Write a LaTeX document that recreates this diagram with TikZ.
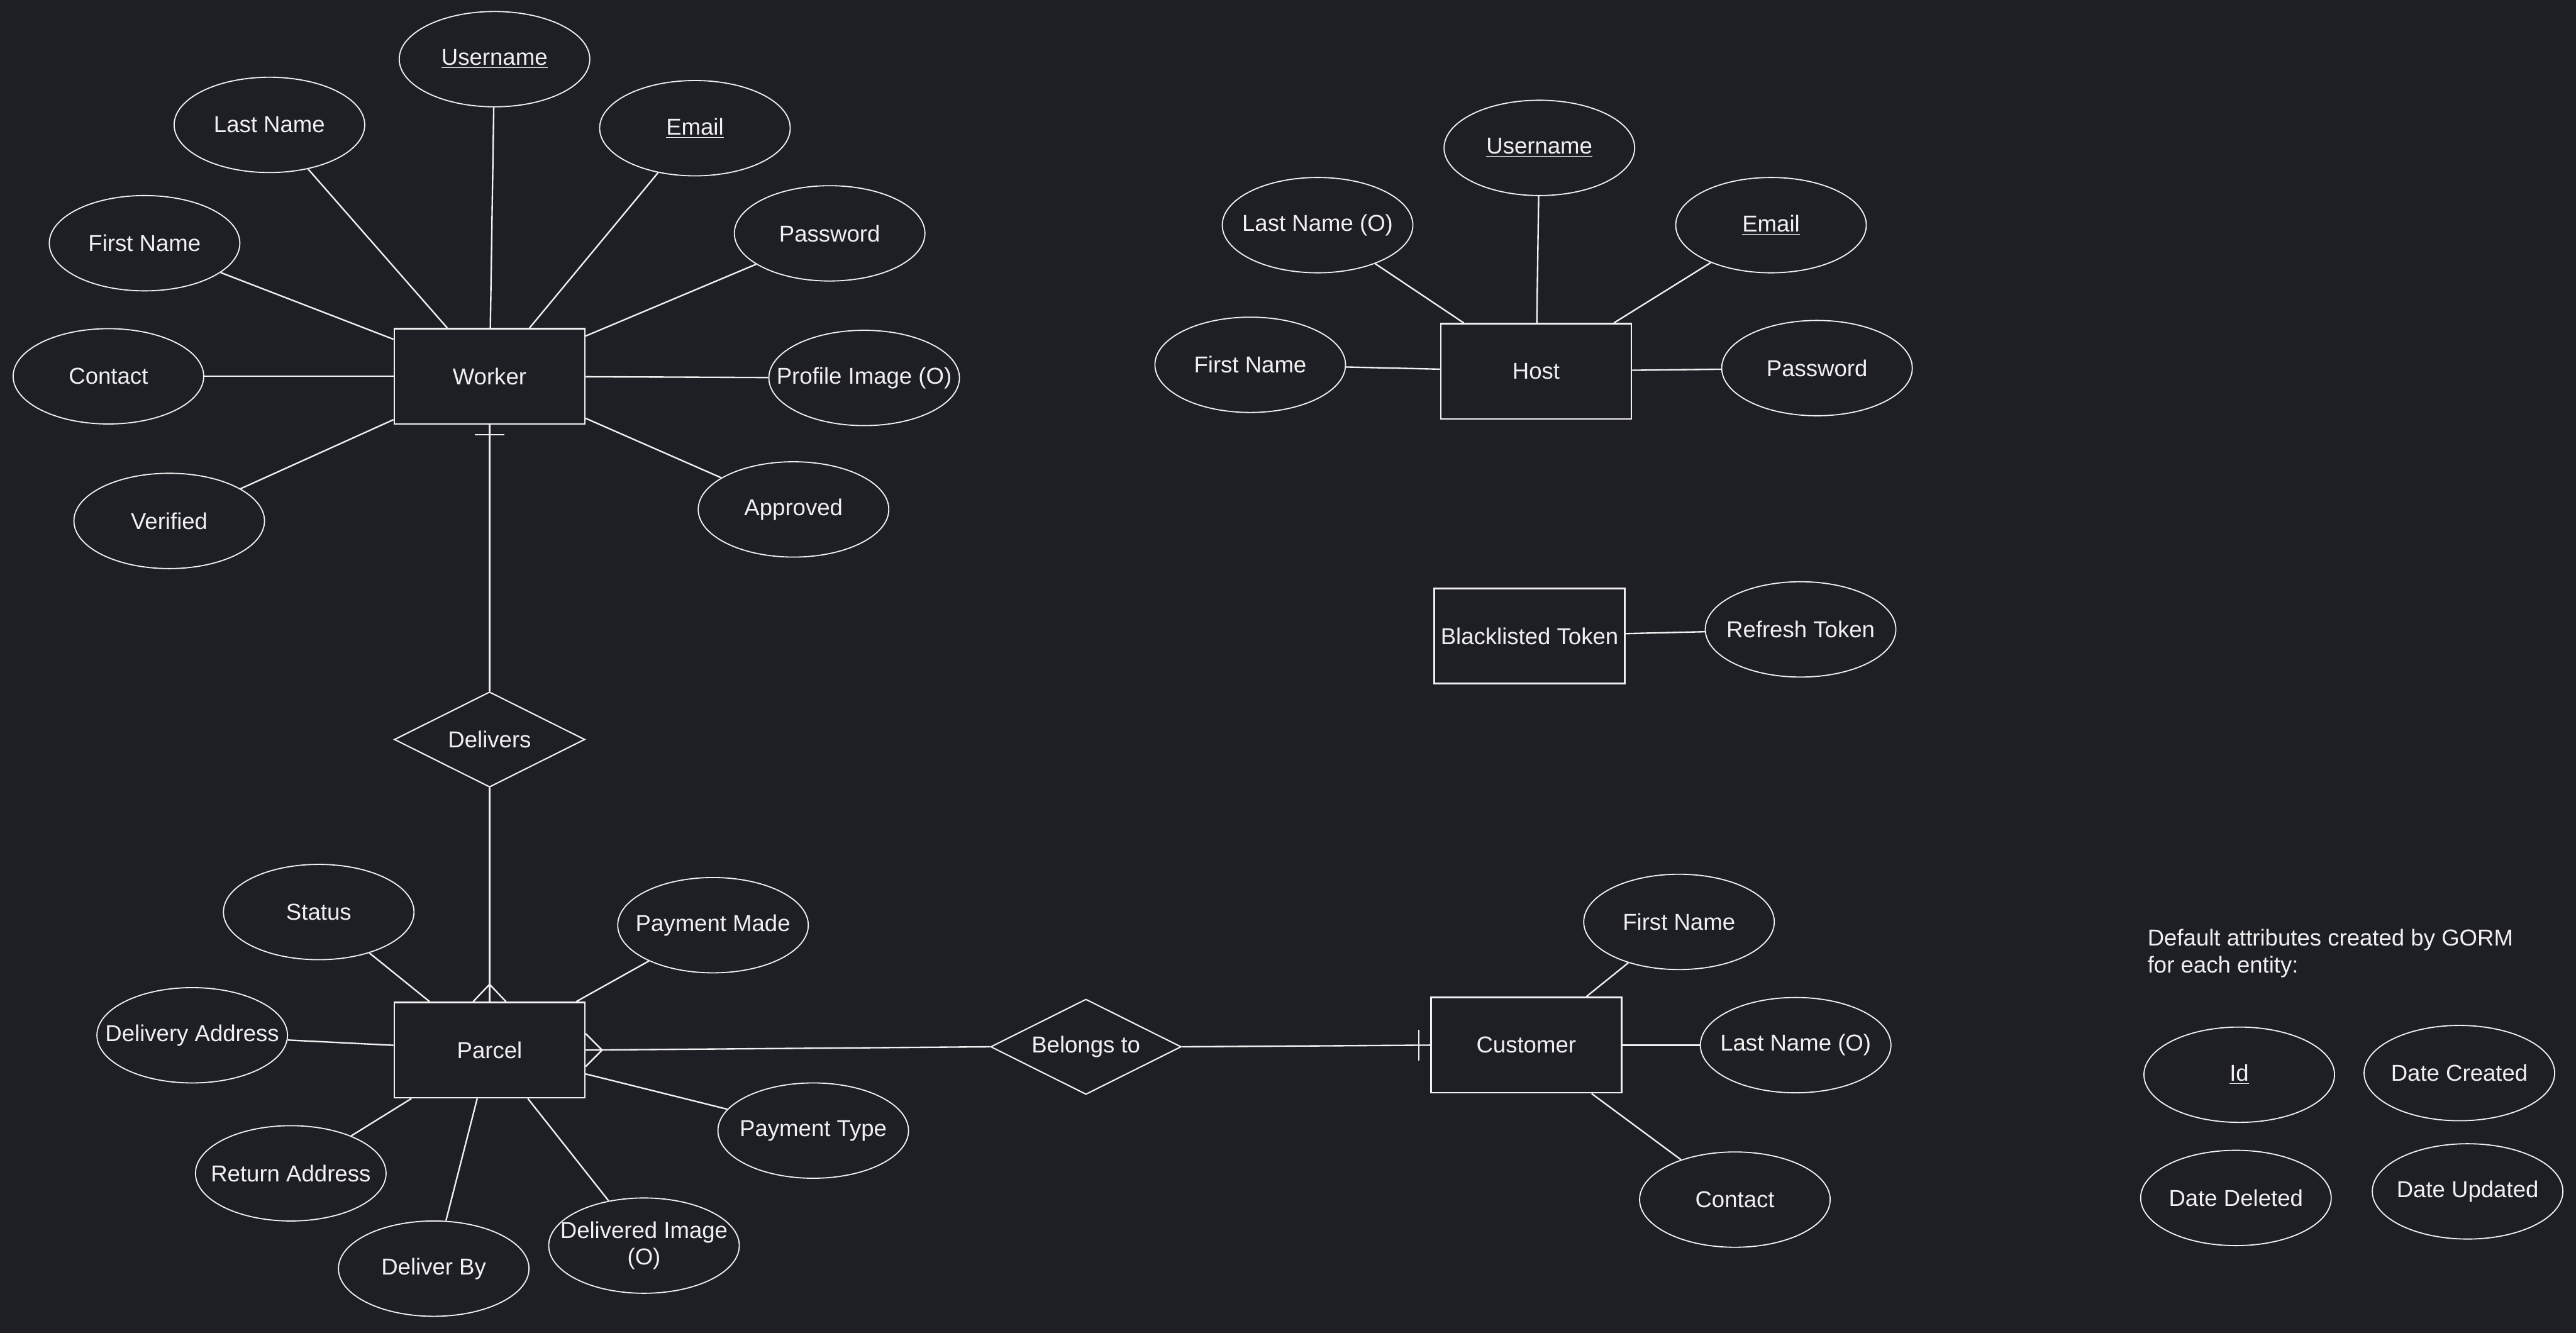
\documentclass[tikz,border=0pt]{standalone}
\usepackage{fontspec}
\setmainfont{Liberation Sans}
\usetikzlibrary{shapes.geometric,calc}
\definecolor{bg}{RGB}{30,31,36}
\definecolor{fg}{RGB}{240,240,240}
\newcommand{\zb}[1]{\makebox[0pt]{#1}}
\newcommand{\uln}[1]{\underline{#1}}
\begin{document}
\begin{tikzpicture}[x=1pt,y=-1pt,
  every node/.style={text=fg, font=\fontsize{14}{16.5}\selectfont},
  entity/.style={draw=fg, line width=1pt, minimum width=116pt, minimum height=58pt, inner sep=0pt},
  attr/.style={ellipse, draw=fg, line width=0.7pt, minimum width=116pt, minimum height=58pt, inner sep=0pt},
  rel/.style={diamond, draw=fg, line width=0.8pt, minimum width=116pt, minimum height=58pt, inner sep=0pt},
  conn/.style={draw=fg, line width=0.9pt}]
\fill[bg] (0,0) rectangle (1568,811);
\useasboundingbox (0,0) rectangle (1568,811);

% Worker
\node[entity] (worker) at (298,229) {Worker};
\node[attr] (wuser) at (301,36) {\zb{\uln{Username}}};
\node[attr] (wlast) at (164,76) {\zb{Last Name}};
\node[attr] (wemail) at (423,78) {\zb{\uln{Email}}};
\node[attr] (wfirst) at (88,148) {\zb{First Name}};
\node[attr] (wpass) at (505,142) {\zb{Password}};
\node[attr] (wcontact) at (66,229) {\zb{Contact}};
\node[attr] (wprofile) at (526,230) {\zb{Profile Image (O)}};
\node[attr] (wverified) at (103,317) {\zb{Verified}};
\node[attr] (wapproved) at (483,310) {\zb{Approved}};
\foreach \a in {wuser,wlast,wemail,wfirst,wpass,wcontact,wprofile,wverified,wapproved}
  \draw[conn] (worker) -- (\a);

% Delivers
\node[rel] (delivers) at (298,450) {\zb{Delivers}};

% Parcel
\node[entity] (parcel) at (298,639) {Parcel};
\node[attr] (pstatus) at (194,555) {\zb{Status}};
\node[attr] (ppaid) at (434,563) {\zb{Payment Made}};
\node[attr] (pdeliv) at (117,630) {\zb{Delivery Address}};
\node[attr] (ptype) at (495,688) {\zb{Payment Type}};
\node[attr] (preturn) at (177,714) {\zb{Return Address}};
\node[attr] (pby) at (264,772) {\zb{Deliver By}};
\node[attr] (pimg) at (392,758) {\zb{\shortstack{Delivered Image\\(O)}}};
\foreach \a in {pstatus,ppaid,pdeliv,ptype,preturn,pby,pimg}
  \draw[conn] (parcel) -- (\a);

% Belongs to / Customer
\node[rel] (belongs) at (661,637) {\zb{Belongs to}};
\node[entity] (customer) at (929,636) {Customer};
\node[attr] (cfirst) at (1022,561) {\zb{First Name}};
\node[attr] (clast) at (1093,636) {\zb{Last Name (O)}};
\node[attr] (ccontact) at (1056,730) {\zb{Contact}};
\foreach \a in {cfirst,clast,ccontact}
  \draw[conn] (customer) -- (\a);

% Relationship connectors
\draw[conn] (worker.south) -- (delivers.north);
\draw[conn] ($(worker.south)+(-9,6)$) -- ($(worker.south)+(9,6)$);
\draw[conn] (delivers.south) -- (parcel.north);
\draw[conn] ($(parcel.north)+(-10,0)$) -- ($(parcel.north)+(0,-10.5)$) -- ($(parcel.north)+(10,0)$);
\draw[conn] (parcel.east) -- (belongs.west);
\draw[conn] ($(parcel.east)+(0,-10)$) -- ($(parcel.east)+(10,0)$) -- ($(parcel.east)+(0,10)$);
\draw[conn] (belongs.east) -- (customer.west);
\draw[conn] ($(customer.west)+(-7,-9.5)$) -- ($(customer.west)+(-7,9.5)$);

% Host
\node[entity] (host) at (935,226) {Host};
\node[attr] (huser) at (937,90) {\zb{\uln{Username}}};
\node[attr] (hlast) at (802,137) {\zb{Last Name (O)}};
\node[attr] (hemail) at (1078,137) {\zb{\uln{Email}}};
\node[attr] (hfirst) at (761,222) {\zb{First Name}};
\node[attr] (hpass) at (1106,224) {\zb{Password}};
\foreach \a in {huser,hlast,hemail,hfirst,hpass}
  \draw[conn] (host) -- (\a);

% Blacklisted token
\node[entity] (bltoken) at (931,387) {Blacklisted Token};
\node[attr] (refresh) at (1096,383) {\zb{Refresh Token}};
\draw[conn] (bltoken) -- (refresh);

% Default attributes
\node[anchor=west, align=left, inner sep=0pt] (note) at (1307,580) {Default attributes created by GORM\\for each entity:};
\node[attr] (did) at (1363,654) {\zb{\uln{Id}}};
\node[attr] (dcreated) at (1497,653) {\zb{Date Created}};
\node[attr] (ddeleted) at (1361,729) {\zb{Date Deleted}};
\node[attr] (dupdated) at (1502,725) {\zb{Date Updated}};
\end{tikzpicture}
\end{document}
